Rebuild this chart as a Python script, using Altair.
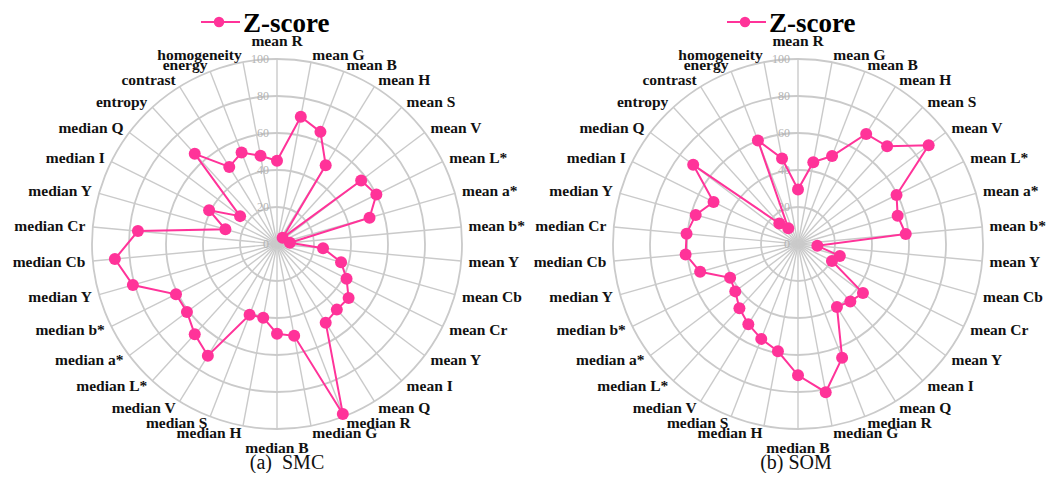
import altair as alt
import pandas as pd

# Feature axes of the radar, clockwise from the top
categories = [
    "mean R", "mean G", "mean B", "mean H", "mean S", "mean V", "mean L*",
    "mean a*", "mean b*", "mean Y", "mean Cb", "mean Cr", "mean Y", "mean I",
    "mean Q", "median R", "median G", "median B", "median H", "median S",
    "median V", "median L*", "median a*", "median b*", "median Y", "median Cb",
    "median Cr", "median Y", "median I", "median Q", "entropy", "contrast",
    "energy", "homogeneity",
]

# Z-score per feature for the two methods
smc_values = [
    45, 70, 65, 50, 4.5, 57, 60, 52, 7, 25, 36, 42, 48.5, 48, 50,
    98.5, 50.5, 48.5, 40.5, 41, 71, 66, 61, 61, 81, 88, 75.5, 29, 41, 25,
    66, 49, 53, 48.5,
]
som_values = [
    29.5, 45, 51, 70, 71.5, 88.5, 59.5, 56, 58.5, 10.5, 23.5, 20.5, 44, 42, 40,
    66, 81.5, 71, 59, 55, 51, 47, 42.5, 41, 55, 61, 60.5, 57.5, 51, 71,
    15, 10, 60, 47,
]

grid_levels = [0, 20, 40, 60, 80, 100]
series_name = ["Z-score"]
captions = ["(a)\u00a0\u00a0SMC", "(b) SOM"]

N = len(categories)
R_PX = 185
PINK = "#FF3399"
GRID = "#cacaca"
SERIF = "Liberation Serif"


def sc():
    return alt.Scale(domain=[-100, 100], nice=False, zero=False)


def radar(values, caption, caption_x, legend_x):
    df = pd.DataFrame({"idx": list(range(N)), "label": categories, "value": values})
    base = alt.Chart(df).transform_calculate(
        ang=f"2*PI*datum.idx/{N}",
        origin="0",
        px="datum.value*sin(datum.ang)",
        py="datum.value*cos(datum.ang)",
        ex="100*sin(datum.ang)",
        ey="100*cos(datum.ang)",
        lr=f"(datum.idx == 0 || datum.idx == {N // 2}) ? 110 : 104",
    ).transform_calculate(
        lx="datum.lr*sin(datum.ang)",
        ly="datum.lr*cos(datum.ang)",
    )

    # concentric grid circles: symbol diameter grows linearly with the level
    rings = alt.Chart(pd.DataFrame({"level": grid_levels[1:]})).transform_calculate(
        origin="0"
    ).mark_point(
        shape="circle", filled=False, color=GRID, opacity=1, strokeWidth=1.8
    ).encode(
        x=alt.X("origin:Q", scale=sc(), axis=None),
        y=alt.Y("origin:Q", scale=sc(), axis=None),
        size=alt.Size(
            "level:Q",
            scale=alt.Scale(type="pow", exponent=2, domain=[0, 100],
                            range=[0, (2 * R_PX) ** 2], zero=True),
            legend=None,
        ),
    )

    spokes = base.mark_rule(color=GRID, strokeWidth=1.4).encode(
        x=alt.X("origin:Q", scale=sc(), axis=None),
        y=alt.Y("origin:Q", scale=sc(), axis=None),
        x2="ex:Q",
        y2="ey:Q",
    )

    ticks = alt.Chart(pd.DataFrame({"level": grid_levels})).transform_calculate(
        origin="0"
    ).mark_text(
        align="right", baseline="middle", dx=-8, fontSize=12, font=SERIF,
        color="#b3b3b3",
    ).encode(
        x=alt.X("origin:Q", scale=sc(), axis=None),
        y=alt.Y("level:Q", scale=sc(), axis=None),
        text="level:Q",
    )

    line = base.mark_line(
        color=PINK, strokeWidth=2, interpolate="linear-closed"
    ).encode(
        x=alt.X("px:Q", scale=sc(), axis=None),
        y=alt.Y("py:Q", scale=sc(), axis=None),
        order=alt.Order("idx:Q"),
    )

    points = base.mark_point(filled=True, color=PINK, opacity=1, size=144).encode(
        x=alt.X("px:Q", scale=sc(), axis=None),
        y=alt.Y("py:Q", scale=sc(), axis=None),
    )

    def labels(cond, align):
        return base.transform_filter(cond).mark_text(
            align=align, baseline="middle", fontSize=15.5, fontWeight="bold",
            font=SERIF, color="#111111",
        ).encode(
            x=alt.X("lx:Q", scale=sc(), axis=None),
            y=alt.Y("ly:Q", scale=sc(), axis=None),
            text="label:N",
        )

    half = N // 2
    lab_c = labels(f"datum.idx == 0 || datum.idx == {half}", "center")
    lab_r = labels(f"datum.idx > 0 && datum.idx < {half}", "left")
    lab_l = labels(f"datum.idx > {half}", "right")

    name_df = pd.DataFrame({"name": series_name})
    leg_line = alt.Chart(name_df).mark_rule(color=PINK, strokeWidth=2).encode(
        x=alt.value(legend_x), x2=alt.value(legend_x + 39), y=alt.value(-37)
    )
    leg_pt = alt.Chart(name_df).mark_point(
        filled=True, color=PINK, opacity=1, size=110
    ).encode(x=alt.value(legend_x + 18), y=alt.value(-37))
    leg_txt = alt.Chart(name_df).mark_text(
        align="left", baseline="alphabetic", fontSize=27, fontWeight="bold",
        font=SERIF, color="#000000",
    ).encode(x=alt.value(legend_x + 42), y=alt.value(-27), text="name:N")

    cap = alt.Chart(pd.DataFrame({"cap": [caption]})).mark_text(
        align="center", baseline="middle", fontSize=20, font=SERIF, color="#111111"
    ).encode(x=alt.value(caption_x), y=alt.value(403.5), text="cap:N")

    return alt.layer(
        rings, spokes, ticks, line, points, lab_c, lab_r, lab_l,
        leg_line, leg_pt, leg_txt, cap,
    ).properties(width=2 * R_PX, height=2 * R_PX)


left = radar(smc_values, captions[0], 195, 109)
right = radar(som_values, captions[1], 183, 114)

chart = (
    alt.hconcat(left, right, spacing=151, bounds="flush")
    .properties(padding={"left": 12, "top": 10, "right": 0, "bottom": 0})
    .configure_view(stroke=None)
)

chart.save("out.html", embed_options={"renderer": "svg", "actions": False})
